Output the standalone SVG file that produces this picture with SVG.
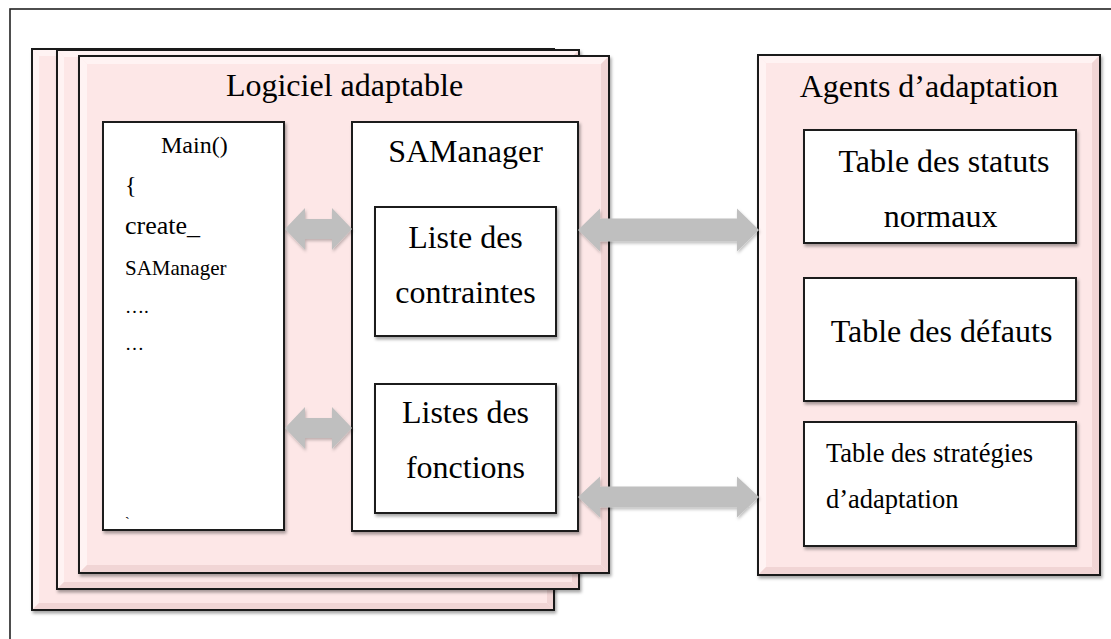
<svg xmlns="http://www.w3.org/2000/svg" width="1111" height="639" viewBox="0 0 1111 639">
<defs>
<filter id="sh" x="-5%" y="-5%" width="115%" height="115%">
<feDropShadow dx="1.5" dy="2.5" stdDeviation="1.8" flood-color="#000" flood-opacity="0.35"/>
</filter>
<filter id="ash" x="-10%" y="-20%" width="120%" height="150%">
<feDropShadow dx="1" dy="2" stdDeviation="1.5" flood-color="#000" flood-opacity="0.25"/>
</filter>
<style>
.frame{fill:#fff;stroke:#222;stroke-width:1.6}
.page{fill:#fde7e7;stroke:#1a1a1a;stroke-width:2}
.edge{fill:none;stroke:#1a1a1a;stroke-width:2}
.box{fill:#fff;stroke:#1a1a1a;stroke-width:2}
.hl{fill:#fff3f3}
.dk{fill:#f1d5d5}
.arrow{fill:#bfbfbf}
text{font-family:"Liberation Serif","Times New Roman",serif;fill:#000}
.t32{font-size:32px}
.mid{text-anchor:middle}
</style>
</defs>

<rect class="frame" x="10" y="9" width="1110" height="640"/>

<g id="page-back">
<rect class="page" x="32" y="49" width="522" height="561" filter="url(#sh)"/>
<polygon class="hl" points="33,50 553,50 547,56 39,56"/>
<polygon class="hl" points="33,50 39,56 39,603 33,609"/>
<polygon class="dk" points="33,609 39,603 547,603 553,609"/>
<polygon class="dk" points="553,50 553,609 547,603 547,56"/>
<rect class="edge" x="32" y="49" width="522" height="561"/>
</g>

<g id="page-middle">
<rect class="page" x="57" y="50" width="522" height="539" filter="url(#sh)"/>
<polygon class="hl" points="58,51 578,51 572,57 64,57"/>
<polygon class="hl" points="58,51 64,57 64,582 58,588"/>
<polygon class="dk" points="58,588 64,582 572,582 578,588"/>
<polygon class="dk" points="578,51 578,588 572,582 572,57"/>
<rect class="edge" x="57" y="50" width="522" height="539"/>
</g>

<g id="logiciel-adaptable">
<rect class="page" x="79" y="56" width="530" height="517" filter="url(#sh)"/>
<polygon class="hl" points="80,57 608,57 601,64 87,64"/>
<polygon class="hl" points="80,57 87,64 87,565 80,572"/>
<polygon class="dk" points="80,572 87,565 601,565 608,572"/>
<polygon class="dk" points="608,57 608,572 601,565 601,64"/>
<rect class="edge" x="79" y="56" width="530" height="517"/>
<text class="t32 mid" x="344.5" y="96">Logiciel adaptable</text>
</g>

<g id="main">
<rect class="box" x="103" y="122" width="181" height="408" filter="url(#sh)"/>
<text x="161" y="153" style="font-size:24px">Main()</text>
<text x="125" y="193" style="font-size:24px">{</text>
<text x="125" y="234" style="font-size:26px">create_</text>
<text x="125" y="275" style="font-size:21px">SAManager</text>
<text x="125" y="313" style="font-size:19px">….</text>
<text x="125" y="350" style="font-size:19px">…</text>
<text x="125" y="527" style="font-size:14px">`</text>
</g>

<g id="samanager">
<rect class="box" x="352" y="122" width="226" height="409" filter="url(#sh)"/>
<text class="t32 mid" x="465.5" y="162">SAManager</text>
</g>

<g id="liste-contraintes">
<rect class="box" x="375" y="207" width="181" height="129" filter="url(#sh)"/>
<text class="t32 mid" x="465.5" y="248">Liste des</text>
<text class="t32 mid" x="465.5" y="303">contraintes</text>
</g>

<g id="listes-fonctions">
<rect class="box" x="375" y="384" width="181" height="129" filter="url(#sh)"/>
<text class="t32 mid" x="465.5" y="423">Listes des</text>
<text class="t32 mid" x="465.5" y="478">fonctions</text>
</g>

<g id="agents-adaptation">
<rect class="page" x="758" y="55" width="342" height="520" filter="url(#sh)"/>
<polygon class="hl" points="759,56 1099,56 1092,63 766,63"/>
<polygon class="hl" points="759,56 766,63 766,567 759,574"/>
<polygon class="dk" points="759,574 766,567 1092,567 1099,574"/>
<polygon class="dk" points="1099,56 1099,574 1092,567 1092,63"/>
<rect class="edge" x="758" y="55" width="342" height="520"/>
<text class="t32 mid" x="929" y="97">Agents d’adaptation</text>
</g>

<g id="table-statuts">
<rect class="box" x="804" y="130" width="272" height="113" filter="url(#sh)"/>
<text class="t32 mid" x="944" y="172">Table des statuts</text>
<text class="t32 mid" x="940.5" y="227">normaux</text>
</g>

<g id="table-defauts">
<rect class="box" x="804" y="278" width="272" height="123" filter="url(#sh)"/>
<text class="t32 mid" x="941.5" y="342">Table des défauts</text>
</g>

<g id="table-strategies">
<rect class="box" x="804" y="422" width="272" height="124" filter="url(#sh)"/>
<text x="826" y="462" style="font-size:26.5px">Table des stratégies</text>
<text x="826" y="508" style="font-size:26.5px">d’adaptation</text>
</g>

<g id="connectors" filter="url(#ash)">
<polygon class="arrow" points="285,229 305,208 305,219 332,219 332,208 352,229 332,250 332,239 305,239 305,250"/>
<polygon class="arrow" points="285,428 305,407 305,418 332,418 332,407 352,428 332,449 332,438 305,438 305,449"/>
<polygon class="arrow" points="578,230 600,208.5 600,218.5 737,218.5 737,208.5 759,230 737,251.5 737,241.5 600,241.5 600,251.5"/>
<polygon class="arrow" points="578,497 600,476.5 600,486.5 737,486.5 737,476.5 759,497 737,517.5 737,507.5 600,507.5 600,517.5"/>
</g>
</svg>
